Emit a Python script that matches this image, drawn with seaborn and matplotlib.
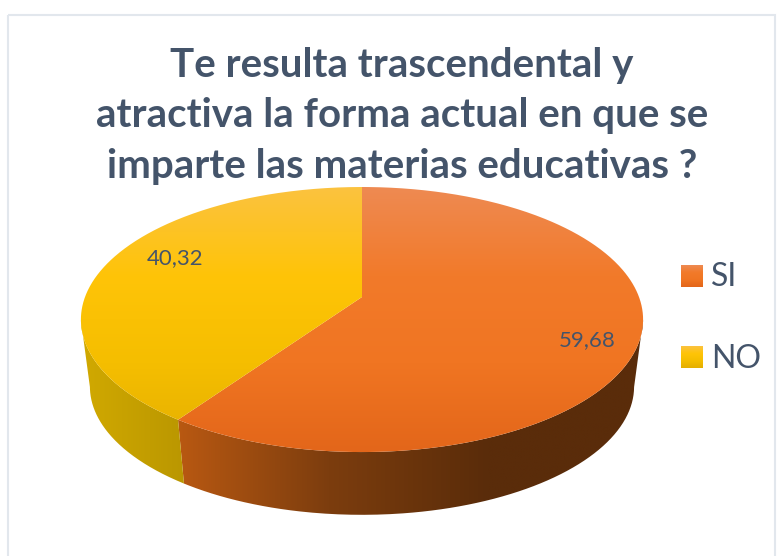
import numpy as np
import seaborn as sns
from matplotlib import pyplot as plt
from matplotlib.patches import PathPatch, Rectangle
from matplotlib.path import Path

categories = ["SI", "NO"]
values = [59.68, 40.32]
value_labels = ["59,68", "40,32"]
title = "Te resulta trascendental y\natractiva la forma actual en que se\nimparte las materias educativas ?"

ink = "#44546A"
top_colors = [["#EE8A52", "#F27A2A", "#F07522", "#E3661A"],
              ["#FBC23F", "#FFC408", "#F5BE00", "#E4AF00"]]
side_colors = [["#BC5A12", "#7C3D0E", "#5A2C0A", "#5A2C0A"],
               ["#D2AA00", "#B89500"]]

# pixel geometry of the tilted disc
cx, apex_y = 362, 297
k, sx, sy = 0.17, 277, 128.7
rim_drop, rim_scale, disc_mid = 67, 0.968, 319.5

sns.set_theme(style="white")
plt.rcParams["font.family"] = ["Lato", "DejaVu Sans"]

fig = plt.figure(figsize=(7.84, 5.56), dpi=100)
ax = fig.add_axes([0, 0, 1, 1])
wedges, _ = ax.pie(values, startangle=90, counterclock=False)
ax.set_aspect("auto")
ax.axis("off")


def top_edge(deg):
    a = np.radians(deg)
    d = 1 + k * np.sin(a)
    return cx + sx * np.cos(a) / d, apex_y - sy * np.sin(a) / d


def low_edge(deg):
    x, y = top_edge(deg)
    return cx + (x - cx) * rim_scale, disc_mid + rim_drop + (y - disc_mid) * rim_scale


def paint(xy, colors, extent, vertical):
    cmap = sns.blend_palette(colors, 256, as_cmap=True)
    ramp = np.linspace(0, 1, 256)
    ramp = ramp[:, None] if vertical else ramp[None, :]
    im = ax.imshow(ramp, cmap=cmap, extent=extent, aspect="auto", zorder=2, interpolation="bilinear")
    patch = PathPatch(Path(xy, closed=False), transform=ax.transData, fc="none", ec="none")
    ax.add_patch(patch)
    im.set_clip_path(patch)


x_left, x_right = cx - 285, cx + 285
for wedge, side_c in zip(wedges, side_colors):
    wedge.set_visible(False)
    # side wall, only the front part of the rim is seen
    a = np.linspace(max(wedge.theta1, -170), min(wedge.theta2, -10), 200)
    ux, uy = top_edge(a)
    lx, ly = low_edge(a)
    wall = np.r_[np.c_[ux, uy], np.c_[lx, ly][::-1], [[ux[0], uy[0]]]]
    if wedge.theta2 > 0:
        paint(wall, side_c, (170, x_right, 525, 300), False)
    else:
        paint(wall, side_c, (x_left, 195, 525, 300), False)

for wedge, top_c in zip(wedges, top_colors):
    a = np.linspace(wedge.theta1, wedge.theta2, 400)
    ux, uy = top_edge(a)
    face = np.r_[[[cx, apex_y]], np.c_[ux, uy], [[cx, apex_y]]]
    paint(face, top_c, (x_left, x_right, 452, 187), True)

ax.add_patch(Rectangle((8, 15), 767, 560, fc="none", ec="#E2E7ED", lw=1.5, zorder=1, clip_on=True))

ax.text(402, 116, title, ha="center", va="center", fontsize=29, fontweight="bold",
        color=ink, linespacing=1.44, zorder=5)
ax.text(587, 340, value_labels[0], ha="center", va="center", fontsize=16, color=ink, zorder=5)
ax.text(175, 258, value_labels[1], ha="center", va="center", fontsize=16, color=ink, zorder=5)

# legend
for name, top_c, y0 in zip(categories, top_colors, [265, 346]):
    ax.imshow(np.linspace(0, 1, 64)[:, None], cmap=sns.blend_palette(top_c, 64, as_cmap=True),
              extent=(681, 703, y0 + 22, y0), aspect="auto", zorder=3)
    ax.text(711, y0 + 12.5, name, ha="left", va="center", fontsize=23, color=ink, zorder=5)

# imshow moves the limits, so they go last
ax.set_xlim(0, 784)
ax.set_ylim(556, 0)

fig.savefig("out.png", dpi=100)
